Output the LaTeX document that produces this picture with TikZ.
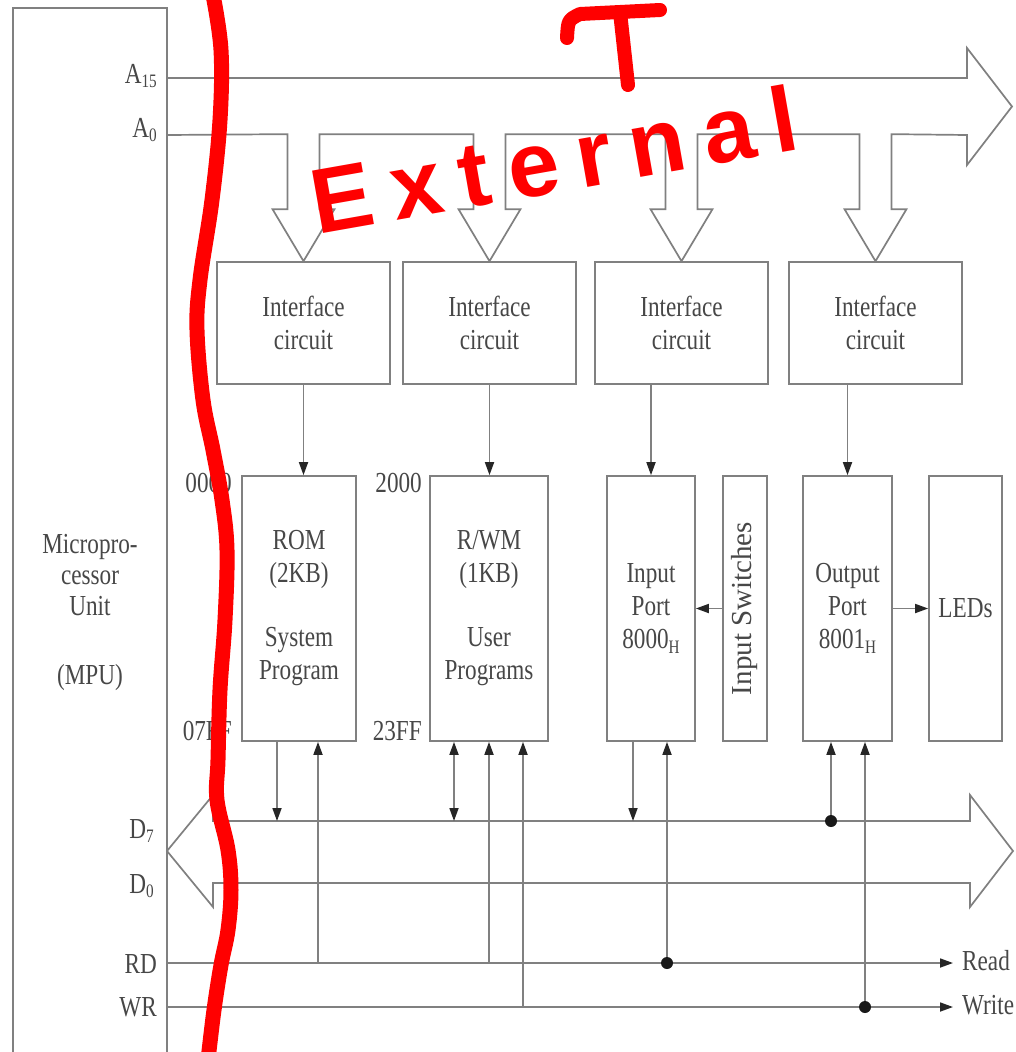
\documentclass[tikz,border=0pt]{standalone}
\usepackage{fontspec}
\setmainfont[FakeStretch=0.8]{Liberation Serif}
\newfontfamily\uprightserif{Liberation Serif}
\newfontfamily\handfont[LetterSpace=20]{Liberation Sans}
\usetikzlibrary{arrows.meta,calc}
\newcommand\lblfont{\fontsize{29}{33}\selectfont}
\newcommand\subs[1]{\raisebox{-0.35ex}{\fontsize{19}{19}\selectfont #1}}
\begin{document}
\begin{tikzpicture}[x=1pt,y=-1pt,
  line/.style={draw=black!50, line width=1.7pt},
  tipa/.tip={Triangle[length=13pt,width=9pt,color=black!85]},
  arr/.style={line, -tipa},
  darr/.style={line, tipa-tipa},
  box/.style={draw=black!50, line width=1.7pt, text=black!72, font=\lblfont, align=center, inner sep=0pt},
  lab/.style={text=black!72, font=\lblfont, inner sep=0pt},
  dotc/.style={circle, fill=black!90, inner sep=0pt, minimum size=12pt},
  addrdrop/.style={insert path={
    -- ($(#1.north)+(16,-127)$) -- ($(#1.north)+(16,-52)$) -- ($(#1.north)+(31,-52)$)
    -- (#1.north) -- ($(#1.north)+(-31,-52)$) -- ($(#1.north)+(-16,-52)$)
    -- ($(#1.north)+(-16,-127)$)}},
]
\useasboundingbox (0,0) rectangle (1015,1052);
\fill[white] (0,0) rectangle (1015,1052);

% MPU
\draw[line] (13,1052) -- (13,8) -- (167,8) -- (167,1052);
\node[lab, align=center, font=\fontsize{29}{31}\selectfont] (mpu) at (90,612) {Micropro-\\cessor\\Unit\\[38pt](MPU)};

% interface circuits
\foreach \n/\x in {if1/303.5, if2/489.5, if3/681.5, if4/875.5}
  \node[box, minimum width=173pt, minimum height=122pt] (\n) at (\x,323) {Interface\\circuit};

% memory / ports
\node[box, minimum width=114pt, minimum height=265pt] (rom) at (299,608.5) {ROM\\(2KB)\\[31pt]System\\Program};
\node[box, minimum width=118pt, minimum height=265pt] (rwm) at (489,608.5) {R/WM\\(1KB)\\[31pt]User\\Programs};
\node[box, minimum width=88pt, minimum height=265pt] (inp) at (651,608.5) {Input\\Port\\8000\subs{H}};
\node[box, minimum width=44pt, minimum height=265pt] (sw) at (745,608.5) {};
\node[lab, rotate=90, font=\uprightserif\fontsize{29}{33}\selectfont] (swt) at (sw.center) {Input Switches};
\node[box, minimum width=89pt, minimum height=265pt] (outp) at (847.5,608.5) {Output\\Port\\8001\subs{H}};
\node[box, minimum width=73pt, minimum height=265pt] (led) at (965.5,608.5) {LEDs};

% address labels
\node[lab, anchor=base east] (adr1) at (232,492) {0000};
\node[lab, anchor=base east] (adr2) at (232,740) {07FF};
\node[lab, anchor=base east] (adr3) at (422,492) {2000};
\node[lab, anchor=base east] (adr4) at (422,740) {23FF};

% signal labels
\node[lab, anchor=base east] (la15) at (157,83) {A\subs{15}};
\node[lab, anchor=base east] (la0) at (157,137) {A\subs{0}};
\node[lab, anchor=base east] (ld7) at (154,838) {D\subs{7}};
\node[lab, anchor=base east] (ld0) at (154,893) {D\subs{0}};
\node[lab, anchor=base east] (lrd) at (157,973) {RD};
\node[lab, anchor=base east] (lwr) at (157,1016) {WR};

% address bus
\coordinate (abTop) at (167,78);
\coordinate (abBot) at (167,135);
\draw[line, line join=miter] (abTop) -- (967,78) -- (967,48) -- (1012,106.5) -- (967,165) -- (967,135)
  [addrdrop=if4] [addrdrop=if3] [addrdrop=if2] [addrdrop=if1] -- (abBot);

% interface to devices
\draw[arr] (if1.south) -- (if1.south |- rom.north);
\draw[arr] (if2.south) -- (if2.south |- rwm.north);
\draw[arr] (inp.north |- if3.south) -- (inp.north);
\draw[arr] (outp.north |- if4.south) -- (outp.north);
\draw[arr] (sw.west) -- (inp.east);
\draw[arr] (outp.east) -- (led.west);

% data bus
\draw[line, line join=miter] (213,821) -- (970,821) -- (970,795) -- (1013,851) -- (970,907) -- (970,883)
  -- (213,883) -- (213,907) -- (167,851) -- (213,795) -- cycle;
\coordinate (D7) at (0,821);

% control lines
\coordinate (rd0) at (167,963);
\coordinate (rd1) at (953,963);
\coordinate (wr0) at (167,1007);
\coordinate (wr1) at (953,1007);
\draw[arr] (rd0) -- (rd1);
\draw[arr] (wr0) -- (wr1);
\node[lab, anchor=base west] (read) at (962,970) {Read};
\node[lab, anchor=base west] (write) at (962,1014) {Write};

% device connections
\path ($(rom.south)+(-22,0)$) coordinate (romD) ($(rom.south)+(19,0)$) coordinate (romR)
  ($(rwm.south)+(-35,0)$) coordinate (rwmD) (rwm.south) coordinate (rwmR) ($(rwm.south)+(34,0)$) coordinate (rwmW)
  ($(inp.south)+(-18,0)$) coordinate (inpD) ($(inp.south)+(16,0)$) coordinate (inpR)
  ($(outp.south)+(-16.5,0)$) coordinate (outD) ($(outp.south)+(17.5,0)$) coordinate (outW);
\draw[arr] (romD) -- (romD |- D7);
\draw[arr] (romR |- rd0) -- (romR);
\draw[darr] (rwmD) -- (rwmD |- D7);
\draw[arr] (rwmR |- rd0) -- (rwmR);
\draw[arr] (rwmW |- wr0) -- (rwmW);
\draw[arr] (inpD) -- (inpD |- D7);
\draw[arr] (inpR |- rd0) -- (inpR);
\draw[arr] (outD |- D7) -- (outD);
\draw[arr] (outW |- wr0) -- (outW);
\node[dotc] (dot1) at (inpR |- rd0) {};
\node[dotc] (dot2) at (outD |- D7) {};
\node[dotc] (dot3) at (outW |- wr0) {};

% red handwritten annotation
\draw[red, line width=15pt, line cap=round, line join=round] plot[smooth, tension=0.6] coordinates {
  (213,-5) (221,50) (220,120) (212,200) (200,280) (197,330) (203,400) (213,450) (222,500)
  (227,550) (225,620) (220,690) (218,760) (217,800) (228,850) (231,890) (228,930) (221,965)
  (214,1010) (208,1060)};
\draw[red, line width=14pt, line cap=round, line join=round] (567,38) .. controls (568,20) .. (580,14) -- (660,10);
\draw[red, line width=14pt, line cap=round] (620,12) -- (628,85);
\node[text=red, font=\handfont\bfseries\fontsize{92}{92}\selectfont, rotate=10, anchor=base, inner sep=0pt] (ext) at (560,192) {External};
\end{tikzpicture}
\end{document}
